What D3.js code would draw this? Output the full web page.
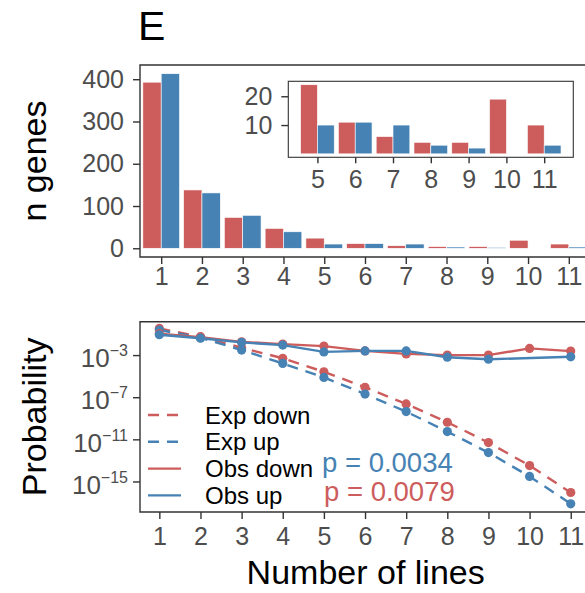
<!DOCTYPE html>
<html>
<head>
<meta charset="utf-8">
<script src="https://cdn.jsdelivr.net/npm/d3@7"></script>
<style>
  body { margin: 0; background: #fff; }
  text { font-family: "Liberation Sans", Arial, Helvetica, sans-serif; }
</style>
</head>
<body>
<div id="chart"></div>
<script>
// datos
var lines = [1, 2, 3, 4, 5, 6, 7, 8, 9, 10, 11];
var downCounts = [393, 138, 73, 47, 24, 11, 6, 4, 4, 19, 10];
var upCounts = [413, 131, 78, 39, 10, 11, 10, 3, 2, 0, 3];
var insetLines = [5, 6, 7, 8, 9, 10, 11];

var expDown = [3.4e-1, 5.6e-2, 5.0e-3, 5.0e-4, 2.6e-5, 8.7e-7, 2.3e-8, 4.2e-10, 4.9e-12, 3.2e-14, 8.9e-17];
var expUp = [2.4e-1, 4.5e-2, 3.0e-3, 1.6e-4, 7.6e-6, 2.0e-7, 4.3e-9, 5.4e-11, 5.5e-13, 3.0e-15, 7.6e-18];
var obsDown = [1.1e-1, 5.0e-2, 1.8e-2, 1.1e-2, 7.1e-3, 2.5e-3, 1.3e-3, 1.0e-3, 1.0e-3, 4.3e-3, 2.4e-3];
var obsUp = [8.5e-2, 4.0e-2, 1.6e-2, 8.9e-3, 2.0e-3, 2.5e-3, 2.5e-3, 6.3e-4, 4.0e-4, null, 6.9e-4];

var topTicks = [0, 100, 200, 300, 400];
var insetTicks = [10, 20];
var logTicks = [-3, -7, -11, -15];
var seriesNames = ["Exp down", "Exp up", "Obs down", "Obs up"];
var pDown = "p = 0.0034", pUp = "p = 0.0079";

(function () {
var red = "#CD5C5C", blue = "#4682B4", tickCol = "#4D4D4D", frame = "#333333";

var svg = d3.select("#chart").append("svg")
    .attr("width", 585).attr("height", 593);

svg.append("text").attr("x", 138).attr("y", 40)
    .style("font-size", "41px").text("E");

// ---------- panel superior: barras ----------
var pt = { l: 140, r: 590, t: 65, b: 257 };
var yMax = d3.max(upCounts.concat(downCounts));
var x = d3.scalePoint().domain(lines).range([pt.l, pt.r]).padding(0.52);
var y = d3.scaleLinear().domain([-0.05 * yMax, 1.05 * yMax]).range([pt.b, pt.t]);
var bw = x.step() * 0.45;

var gTop = svg.append("g");
function drawBars(g, xs, ys, cats, w) {
  cats.forEach(function (c) {
    var idx = lines.indexOf(c);
    [[downCounts[idx], red, -w], [upCounts[idx], blue, 0]].forEach(function (b) {
      if (b[0] <= 0) return;
      g.append("rect")
        .attr("x", xs(c) + b[2]).attr("width", w)
        .attr("y", ys(b[0])).attr("height", ys(0) - ys(b[0]))
        .attr("fill", b[1]).attr("stroke", "#fff").attr("stroke-width", 0.6);
    });
  });
}
drawBars(gTop, x, y, lines, bw);

gTop.append("path")
    .attr("d", "M585," + pt.t + "H" + pt.l + "V" + pt.b + "H585")
    .attr("fill", "none").attr("stroke", frame).attr("stroke-width", 1.4);

gTop.append("g").attr("transform", "translate(" + pt.l + ",0)")
    .call(d3.axisLeft(y).tickValues(topTicks).tickSize(7).tickPadding(9));
gTop.append("g").attr("transform", "translate(0," + pt.b + ")")
    .call(d3.axisBottom(x).tickSize(7).tickPadding(3));

// ---------- recuadro ----------
var ins = { l: 288.3, r: 573.3, t: 81.3, b: 157.3 };
var insMax = d3.max(insetLines.map(function (c) {
  var i = lines.indexOf(c); return Math.max(downCounts[i], upCounts[i]);
}));
var xi = d3.scalePoint().domain(insetLines).range([ins.l, ins.r]).padding(0.77);
var yi = d3.scaleLinear().domain([-0.05 * insMax, 1.05 * insMax]).range([ins.b, ins.t]);
var gIns = svg.append("g");
gIns.append("rect").attr("x", ins.l).attr("y", ins.t)
    .attr("width", ins.r - ins.l).attr("height", ins.b - ins.t)
    .attr("fill", "#fff");
drawBars(gIns, xi, yi, insetLines, xi.step() * 0.445);
gIns.append("rect").attr("x", ins.l).attr("y", ins.t)
    .attr("width", ins.r - ins.l).attr("height", ins.b - ins.t)
    .attr("fill", "none").attr("stroke", frame).attr("stroke-width", 1.1);
gIns.append("g").attr("transform", "translate(" + ins.l + ",0)")
    .call(d3.axisLeft(yi).tickValues(insetTicks).tickSize(7).tickPadding(9));
gIns.append("g").attr("transform", "translate(0," + ins.b + ")")
    .call(d3.axisBottom(xi).tickSize(6).tickPadding(7));

// ---------- panel inferior: probabilidades ----------
var bot = { l: 140, r: 591.3, t: 321.7, b: 512 };
var xb = d3.scaleLinear().domain([0.53, 11.5]).range([bot.l, bot.r]);
var yb = d3.scaleLog().domain([Math.pow(10, -17.9), Math.pow(10, 0.17)]).range([bot.b, bot.t]);
var gBot = svg.append("g");

var series = [
  { name: seriesNames[0], v: expDown, c: red, dash: "11,8" },
  { name: seriesNames[1], v: expUp, c: blue, dash: "11,8" },
  { name: seriesNames[2], v: obsDown, c: red, dash: null },
  { name: seriesNames[3], v: obsUp, c: blue, dash: null }
];
var line = d3.line()
    .x(function (d) { return xb(d[0]); })
    .y(function (d) { return yb(d[1]); });
series.forEach(function (s) {
  var pts = lines.map(function (l, i) { return [l, s.v[i]]; })
      .filter(function (d) { return d[1] != null; });
  gBot.append("path").attr("d", line(pts))
      .attr("fill", "none").attr("stroke", s.c).attr("stroke-width", 2.4)
      .attr("stroke-dasharray", s.dash);
  s.pts = pts;
});
series.forEach(function (s) {
  gBot.selectAll(null).data(s.pts).enter().append("circle")
      .attr("cx", function (d) { return xb(d[0]); })
      .attr("cy", function (d) { return yb(d[1]); })
      .attr("r", 4.6).attr("fill", s.c);
});

gBot.append("path")
    .attr("d", "M585," + bot.t + "H" + bot.l + "V" + bot.b + "H585")
    .attr("fill", "none").attr("stroke", frame).attr("stroke-width", 1.4);

var yAxB = gBot.append("g").attr("transform", "translate(" + bot.l + ",0)")
    .call(d3.axisLeft(yb).tickValues(logTicks.map(function (e) { return Math.pow(10, e); }))
      .tickSize(7).tickPadding(5).tickFormat(""));
gBot.append("g").attr("transform", "translate(0," + bot.b + ")")
    .call(d3.axisBottom(xb).tickValues(lines).tickFormat(d3.format("d")).tickSize(7).tickPadding(8));

// leyenda
var leg = gBot.append("g");
series.forEach(function (s, i) {
  var yy = 415 + i * 26.8;
  leg.append("line").attr("x1", 148).attr("x2", 181).attr("y1", yy).attr("y2", yy)
     .attr("stroke", s.c).attr("stroke-width", 2.4).attr("stroke-dasharray", s.dash);
  leg.append("text").attr("x", 205).attr("y", yy + 8.5)
     .style("font-size", "24px").attr("fill", "#000").text(s.name);
});
gBot.append("text").attr("x", 322).attr("y", 471.5)
    .style("font-size", "27.5px").attr("fill", blue).text(pDown);
gBot.append("text").attr("x", 324).attr("y", 501)
    .style("font-size", "27.5px").attr("fill", red).text(pUp);

// estilo de ejes
svg.selectAll(".domain").remove();
svg.selectAll(".tick line").attr("stroke", frame).attr("stroke-width", 1.4);
svg.selectAll(".tick text").attr("fill", tickCol)
    .style("font-size", "25px").style("font-family", "'Liberation Sans', Arial, sans-serif");

// etiquetas 10^x
yAxB.selectAll(".tick text").attr("dy", null).each(function (d) {
  var t = d3.select(this);
  var e = Math.round(Math.log10(d));
  t.style("font-size", "26px");
  t.append("tspan").attr("dy", "0.45em").text("10");
  t.append("tspan").attr("dy", "-11").style("font-size", "16px")
    .text("\u2212" + Math.abs(e));
});

// titulos de ejes
svg.append("text").attr("transform", "translate(46," + (pt.t + pt.b) / 2 + ") rotate(-90)")
    .attr("text-anchor", "middle").style("font-size", "34px").text("n genes");
svg.append("text").attr("transform", "translate(46," + (bot.t + bot.b) / 2 + ") rotate(-90)")
    .attr("text-anchor", "middle").style("font-size", "34px").text("Probability");
svg.append("text").attr("x", (bot.l + bot.r) / 2).attr("y", 584)
    .attr("text-anchor", "middle").style("font-size", "34px").text("Number of lines");
})();
</script>
</body>
</html>
